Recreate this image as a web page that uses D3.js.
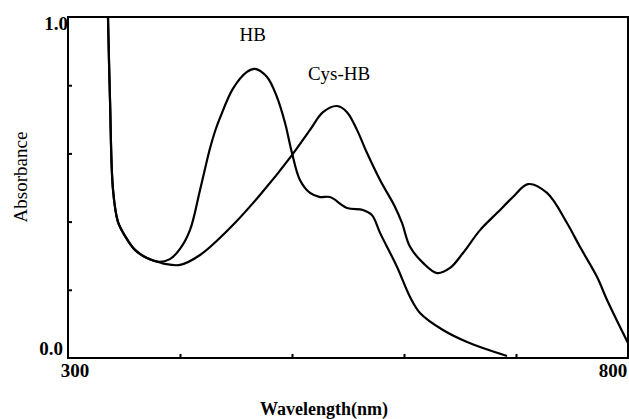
<!DOCTYPE html>
<html>
<head>
<meta charset="utf-8">
<script src="https://cdn.jsdelivr.net/npm/d3@7"></script>
<style>
  body { margin: 0; background: #fff; }
  svg text { font-family: "Liberation Serif", "DejaVu Serif", serif; fill: #000; }
</style>
</head>
<body>
<svg class="spectrum"></svg>
<script>
// absorbance spectra (wavelength nm, absorbance)
var hbWavelength = [335.7, 337.5, 340.2, 344.6, 350.9, 359.8, 370.5, 380.4, 391, 400, 408.9, 417.9,
    426.8, 431.3, 435.7, 447.3, 459.8, 467, 477.7, 486.6, 493.8, 500, 507.1, 516.1, 525, 533.9, 549.1, 563.4,
    571.4, 578.6, 593.8, 605.4, 614.3, 634.8, 656.3, 692];
var hbAbsorbance = [1.0, 0.757, 0.493, 0.399, 0.358, 0.317, 0.293, 0.282, 0.29, 0.32, 0.375, 0.493,
    0.615, 0.665, 0.704, 0.79, 0.839, 0.848, 0.824, 0.765, 0.689, 0.601, 0.522, 0.484, 0.472, 0.472, 0.44, 0.434,
    0.419, 0.367, 0.267, 0.179, 0.132, 0.082, 0.047, 0.006];

var cysWavelength = [335.7, 337.5, 340.2, 344.6, 350.9, 359.8, 370.5, 380.4, 386.6, 400, 417.9, 444.6,
    471.4, 500, 516.1, 527.7, 540.2, 549.1, 558, 567, 578.6, 592, 598.2, 605.4, 617, 629.5, 641.1,
    652.7, 667.9, 683, 697.3, 710.7, 727.7, 745.5, 757.1, 772.3, 781.3, 792.9, 800];
var cysAbsorbance = [1.0, 0.757, 0.493, 0.399, 0.358, 0.317, 0.293, 0.282, 0.276, 0.273, 0.302, 0.381,
    0.478, 0.595, 0.669, 0.721, 0.739, 0.721, 0.669, 0.601, 0.522, 0.443, 0.396, 0.326, 0.279, 0.249,
    0.264, 0.308, 0.375, 0.425, 0.472, 0.51, 0.484, 0.396, 0.326, 0.238, 0.17, 0.091, 0.044];

var xTicks = [400, 500, 600, 700];
var yTicks = [0.2, 0.4, 0.6, 0.8];
var xEndLabels = ["300", "800"];
var yEndLabels = ["0.0", "1.0"];

function zip(xs, ys) {
    return xs.map(function(v, i) { return {w: v, a: ys[i]}; });
}

var width = 629, height = 419;
var margin = {top: 17, right: 1, bottom: 61, left: 68};
var plotW = width - margin.left - margin.right;
var plotH = height - margin.top - margin.bottom;

var x = d3.scaleLinear().domain([300, 800]).range([0, plotW]);
var y = d3.scaleLinear().domain([0, 1]).range([plotH, 0]);

var svg = d3.select(".spectrum")
    .attr("width", width)
    .attr("height", height);

var g = svg.append("g")
    .attr("transform", "translate(" + margin.left + "," + margin.top + ")");

// frame
g.append("rect")
    .attr("x", 0).attr("y", 0)
    .attr("width", plotW).attr("height", plotH)
    .attr("fill", "none")
    .attr("stroke", "#000")
    .attr("stroke-width", 2);

// inward ticks
g.append("g")
    .attr("transform", "translate(0," + plotH + ")")
    .call(d3.axisBottom(x).tickValues(xTicks).tickSize(-4).tickFormat(""))
    .call(function(a) {
        a.select(".domain").remove();
        a.selectAll(".tick line").attr("stroke", "#000").attr("stroke-width", 2);
    });

g.append("g")
    .call(d3.axisLeft(y).tickValues(yTicks).tickSize(-4).tickFormat(""))
    .call(function(a) {
        a.select(".domain").remove();
        a.selectAll(".tick line").attr("stroke", "#000").attr("stroke-width", 2);
    });

// end labels
g.append("text")
    .attr("x", 0).attr("y", y(1) + 13)
    .attr("text-anchor", "end")
    .attr("font-size", 19).attr("font-weight", "bold")
    .text(yEndLabels[1]);
g.append("text")
    .attr("x", -5).attr("y", y(0) - 3)
    .attr("text-anchor", "end")
    .attr("font-size", 19).attr("font-weight", "bold")
    .text(yEndLabels[0]);
g.append("text")
    .attr("x", x(300) + 7).attr("y", plotH + 19)
    .attr("text-anchor", "middle")
    .attr("font-size", 19).attr("font-weight", "bold")
    .text(xEndLabels[0]);
g.append("text")
    .attr("x", x(800) - 15).attr("y", plotH + 19)
    .attr("text-anchor", "middle")
    .attr("font-size", 19).attr("font-weight", "bold")
    .text(xEndLabels[1]);

// axis titles
svg.append("text")
    .attr("x", 324).attr("y", 415)
    .attr("text-anchor", "middle")
    .attr("font-size", 18).attr("font-weight", "bold")
    .text("Wavelength(nm)");

svg.append("text")
    .attr("transform", "translate(27,177) rotate(-90)")
    .attr("text-anchor", "middle")
    .attr("font-size", 19)
    .text("Absorbance");

var line = d3.line()
    .x(function(d) { return x(d.w); })
    .y(function(d) { return y(d.a); })
    .curve(d3.curveCatmullRom.alpha(0.5));

g.append("path")
    .datum(zip(cysWavelength, cysAbsorbance))
    .attr("fill", "none")
    .attr("stroke", "#000")
    .attr("stroke-width", 2.2)
    .attr("stroke-linejoin", "round")
    .attr("d", line);

g.append("path")
    .datum(zip(hbWavelength, hbAbsorbance))
    .attr("fill", "none")
    .attr("stroke", "#000")
    .attr("stroke-width", 2.2)
    .attr("stroke-linejoin", "round")
    .attr("d", line);

// curve labels
g.append("text")
    .attr("x", x(465)).attr("y", y(0.93))
    .attr("text-anchor", "middle")
    .attr("font-size", 19)
    .text("HB");
g.append("text")
    .attr("x", x(542)).attr("y", y(0.815))
    .attr("text-anchor", "middle")
    .attr("font-size", 19)
    .text("Cys-HB");
</script>
</body>
</html>
